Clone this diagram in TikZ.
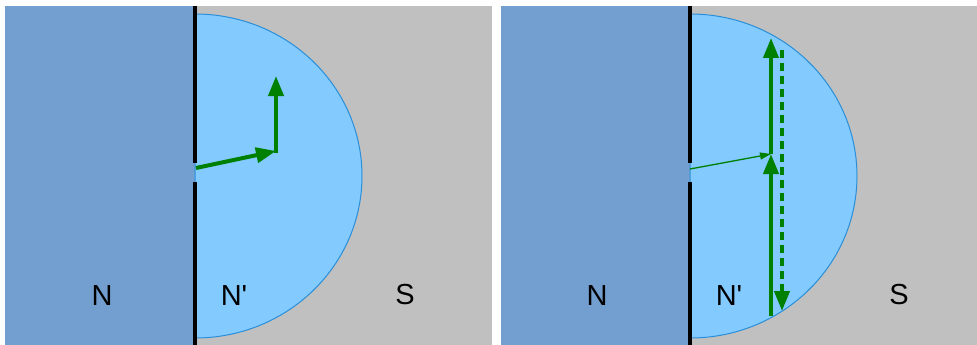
\documentclass[tikz,border=0pt]{standalone}
\usepackage{fontspec}
\setmainfont{Liberation Sans}
\usetikzlibrary{arrows.meta}
\definecolor{regionN}{HTML}{729FCF}
\definecolor{regionNp}{HTML}{83CAFF}
\definecolor{regionS}{HTML}{C0C0C0}
\definecolor{edgeblue}{HTML}{2A8FD8}
\definecolor{arrowgreen}{HTML}{008000}
\tikzset{
  lbl/.style={font=\fontsize{29}{29}\selectfont, text=black, inner sep=0pt},
  wall/.style={line width=4pt, black},
  thickarrow/.style={line width=4pt, arrowgreen, -{Triangle[length=20pt,width=15pt]}},
  thinarrow/.style={line width=1.3pt, arrowgreen, -{Triangle[length=11pt,width=7pt]}},
  dasharrow/.style={line width=4pt, arrowgreen, dash pattern=on 8pt off 5pt, -{Triangle[length=20pt,width=15pt]}},
  half/.style={fill=regionNp, draw=edgeblue, line width=1pt}
}
\begin{document}
\begin{tikzpicture}[x=1pt,y=-1pt]
\useasboundingbox (0,0) rectangle (977,345);
\fill[white] (0,0) rectangle (977,345);
% ---------- left panel ----------
\fill[regionS] (5,6) rectangle (492,345);
\fill[regionN] (5,6) rectangle (195,345);
\filldraw[half] (195,14) arc[start angle=-90, end angle=90, x radius=167, y radius=162] -- cycle;
\coordinate (Lt) at (195,6);
\coordinate (Lg1) at (195,163);
\coordinate (Lg2) at (195,182);
\coordinate (Lb) at (195,345);
\draw[wall] (Lt) -- (Lg1);
\draw[wall] (Lg2) -- (Lb);
\coordinate (La) at (196,168);
\coordinate (Lc) at (276,151);
\coordinate (Ld) at (276,76);
\draw[thickarrow] (La) -- (Lc);
\draw[thickarrow] ([yshift=-2pt]Lc) -- (Ld);
\node[lbl] (LN) at (102,296) {N};
\node[lbl] (LNp) at (234,296) {N\textquotesingle};
\node[lbl] (LS) at (405,295) {S};
% ---------- right panel ----------
\fill[regionS] (501,6) rectangle (977,345);
\fill[regionN] (501,6) rectangle (690,345);
\filldraw[half] (690,14) arc[start angle=-90, end angle=90, x radius=167, y radius=162] -- cycle;
\coordinate (Rt) at (690,6);
\coordinate (Rg1) at (690,163);
\coordinate (Rg2) at (690,182);
\coordinate (Rb) at (690,345);
\draw[wall] (Rt) -- (Rg1);
\draw[wall] (Rg2) -- (Rb);
\coordinate (Ra) at (690,169);
\coordinate (Rc) at (771,154);
\coordinate (Rbot) at (771,316);
\coordinate (Rtop) at (771,38);
\draw[thinarrow] (Ra) -- (Rc);
\draw[thickarrow] (Rbot) -- (Rc);
\draw[thickarrow] (Rc) -- (Rtop);
\coordinate (Dtop) at (782,50);
\coordinate (Dbot) at (782,311);
\draw[dasharrow] (Dtop) -- (Dbot);
\node[lbl] (RN) at (597,296) {N};
\node[lbl] (RNp) at (729,296) {N\textquotesingle};
\node[lbl] (RS) at (899,295) {S};
\end{tikzpicture}
\end{document}
